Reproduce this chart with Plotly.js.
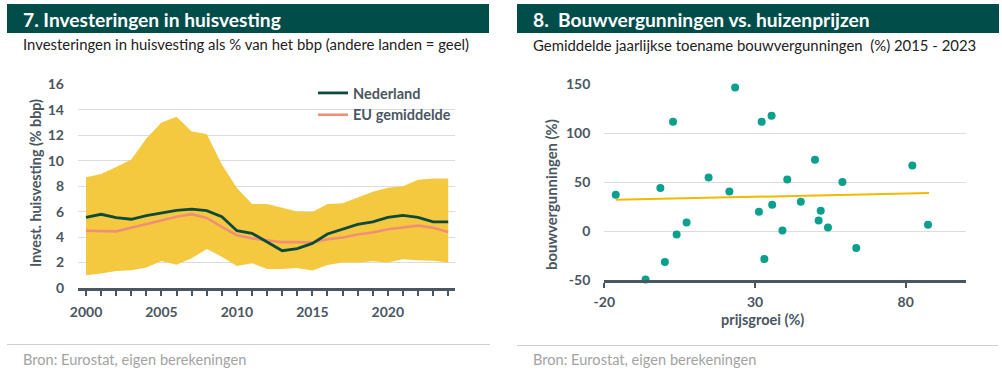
<!DOCTYPE html>
<html>
<head>
<meta charset="utf-8">
<script src="https://cdn.plot.ly/plotly-3.0.1.min.js"></script>
<style>
  html, body { margin: 0; padding: 0; background: #ffffff; }
  #chart { width: 1002px; height: 379px; }
</style>
</head>
<body>
<div id="chart"></div>
<script>
// ---- Data: chart 7 ----
const years = [2000,2001,2002,2003,2004,2005,2006,2007,2008,2009,2010,2011,2012,2013,2014,2015,2016,2017,2018,2019,2020,2021,2022,2023,2024];
const nederland = [5.55,5.79,5.52,5.40,5.69,5.90,6.10,6.20,6.07,5.60,4.50,4.30,3.64,2.93,3.09,3.50,4.24,4.60,5.00,5.20,5.55,5.70,5.55,5.20,5.20];
const euGemiddelde = [4.50,4.45,4.45,4.73,5.00,5.30,5.60,5.80,5.50,4.80,4.15,3.90,3.75,3.60,3.60,3.57,3.83,3.97,4.20,4.36,4.62,4.78,4.90,4.73,4.40];
const andereHoog = [8.70,8.96,9.50,10.10,11.75,13.00,13.45,12.30,12.10,9.70,7.85,6.60,6.60,6.30,6.00,5.97,6.60,6.65,7.10,7.56,7.88,8.00,8.50,8.60,8.60];
const andereLaag = [1.00,1.13,1.34,1.40,1.62,2.12,1.83,2.33,3.07,2.46,1.73,1.95,1.50,1.50,1.58,1.37,1.80,2.00,2.00,2.10,2.00,2.26,2.18,2.15,2.00];
const yTicks7 = [0,2,4,6,8,10,12,14,16];

// ---- Data: chart 8 ----
const prijsgroei = [-16.2,-6.3,-1.4,0.1,2.8,4.0,7.3,14.6,21.5,23.4,32.2,35.5,31.3,33.1,35.7,39.1,40.7,45.2,49.9,51.1,51.8,54.2,59.0,63.6,82.2,87.4];
const bouwvergunningen = [37.1,-49.5,43.9,-31.7,111.7,-3.4,8.8,54.8,40.5,146.8,111.7,117.8,19.7,-28.6,26.9,0.6,52.7,29.9,72.9,10.9,20.7,3.7,50.1,-17.4,67.1,6.4];
const trendX = [-16.2, 87.7];
const trendY = [32.0, 38.8];
const xTicks8 = [-20, 30, 80];
const yTicks8 = [-50, 0, 50, 100, 150];

// ---- Text ----
const title7 = "7. Investeringen in huisvesting";
const sub7 = "Investeringen in huisvesting als % van het bbp (andere landen = geel)";
const title8 = "8.\u00a0\u00a0Bouwvergunningen vs. huizenprijzen";
const sub8 = "Gemiddelde jaarlijkse toename bouwvergunningen\u00a0\u00a0(%) 2015 - 2023";
const bron = "Bron: Eurostat, eigen berekeningen";

// ---- Styling helpers ----
const W = 1002, H = 379;
const px = x => x / W;
const py = y => 1 - y / H;
const FONT = "Lato, 'Open Sans', sans-serif";
const AX = "#4a5661";
const TEAL = "#014d4a";

const traces = [
  { x: years, y: andereLaag, type: 'scatter', mode: 'lines', line: {width: 0, color: '#f5c93f'},
    showlegend: false, hoverinfo: 'skip', xaxis: 'x', yaxis: 'y' },
  { x: years, y: andereHoog, type: 'scatter', mode: 'lines', line: {width: 0, color: '#f5c93f'},
    fill: 'tonexty', fillcolor: '#f5c93f', showlegend: false, xaxis: 'x', yaxis: 'y' },
  { x: years, y: euGemiddelde, type: 'scatter', mode: 'lines', name: 'EU gemiddelde',
    line: {color: '#ef8f78', width: 2.6}, legendgroup: 'b', legendrank: 2, xaxis: 'x', yaxis: 'y' },
  { x: years, y: nederland, type: 'scatter', mode: 'lines', name: 'Nederland',
    line: {color: '#0d4a3b', width: 2.8}, legendgroup: 'a', legendrank: 1, xaxis: 'x', yaxis: 'y' },
  { x: trendX, y: trendY, type: 'scatter', mode: 'lines', line: {color: '#f5b800', width: 2},
    showlegend: false, xaxis: 'x2', yaxis: 'y2' },
  { x: prijsgroei, y: bouwvergunningen, type: 'scatter', mode: 'markers',
    marker: {color: '#0aa08d', size: 8}, showlegend: false, cliponaxis: false, xaxis: 'x2', yaxis: 'y2' }
];

const tickFont = {family: FONT, size: 14, color: AX, weight: 'bold'};

const layout = {
  width: W, height: H,
  margin: {l: 0, r: 0, t: 0, b: 0},
  paper_bgcolor: '#ffffff', plot_bgcolor: 'rgba(0,0,0,0)',
  font: {family: FONT, color: AX},
  showlegend: true,
  legend: {
    x: px(313), y: py(77), xanchor: 'left', yanchor: 'top',
    bgcolor: 'rgba(0,0,0,0)', borderwidth: 0, tracegroupgap: 6,
    font: {family: FONT, size: 14.5, color: AX, weight: 'bold'},
    traceorder: 'normal'
  },
  xaxis: {
    domain: [px(78), px(455)], range: [1999.47, 2024.45],
    tickvals: years, ticktext: years.map(y => (y % 5 === 0 ? String(y) : '')),
    ticks: 'outside', ticklen: 5, tickwidth: 2, tickcolor: AX,
    showline: true, linecolor: AX, linewidth: 2.5,
    showgrid: false, zeroline: false, tickfont: tickFont, ticklabelstandoff: 5,
    anchor: 'y'
  },
  yaxis: {
    domain: [py(288), py(84.3)], range: [0, 16],
    tickvals: yTicks7, showgrid: true, gridcolor: '#dcdcdc', gridwidth: 1,
    zeroline: false, showline: false, ticks: '', tickfont: tickFont, ticklabelstandoff: 13,
    anchor: 'x'
  },
  xaxis2: {
    domain: [px(604.3), px(966)], range: [-20, 100],
    tickvals: xTicks8, ticktext: xTicks8.map(v => String(v)),
    ticks: 'outside', ticklen: 5, tickwidth: 2, tickcolor: AX,
    showline: true, linecolor: AX, linewidth: 2.5,
    showgrid: false, zeroline: false, tickfont: tickFont, ticklabelstandoff: 3,
    anchor: 'y2'
  },
  yaxis2: {
    domain: [py(280), py(84.3)], range: [-50, 150],
    tickvals: yTicks8, ticktext: yTicks8.map(v => String(v)),
    showgrid: true, gridcolor: '#dcdcdc', gridwidth: 1,
    zeroline: false, showline: false, ticks: '', tickfont: tickFont, ticklabelstandoff: 13,
    anchor: 'x2'
  },
  shapes: [
    {type: 'rect', xref: 'paper', yref: 'paper', x0: px(7), x1: px(489), y0: py(33), y1: py(4),
     fillcolor: TEAL, line: {width: 0}, layer: 'below'},
    {type: 'rect', xref: 'paper', yref: 'paper', x0: px(517), x1: px(999), y0: py(33), y1: py(4),
     fillcolor: TEAL, line: {width: 0}, layer: 'below'},
    {type: 'line', xref: 'paper', yref: 'paper', x0: px(7), x1: px(490), y0: py(344.5), y1: py(344.5),
     line: {color: '#cfcfcf', width: 1}},
    {type: 'line', xref: 'paper', yref: 'paper', x0: px(517), x1: px(998), y0: py(345.5), y1: py(345.5),
     line: {color: '#cfcfcf', width: 1}}
  ],
  annotations: [
    {text: title7, xref: 'paper', yref: 'paper', x: px(21), y: py(19), xanchor: 'left', yanchor: 'middle',
     showarrow: false, font: {family: FONT, size: 19.2, color: '#ffffff', weight: 'bold'}},
    {text: title8, xref: 'paper', yref: 'paper', x: px(531), y: py(19), xanchor: 'left', yanchor: 'middle',
     showarrow: false, font: {family: FONT, size: 19.2, color: '#ffffff', weight: 'bold'}},
    {text: sub7, xref: 'paper', yref: 'paper', x: px(21), y: py(44), xanchor: 'left', yanchor: 'middle',
     showarrow: false, font: {family: FONT, size: 14.9, color: '#222222'}},
    {text: sub8, xref: 'paper', yref: 'paper', x: px(531), y: py(45), xanchor: 'left', yanchor: 'middle',
     showarrow: false, font: {family: FONT, size: 14.9, color: '#222222'}},
    {text: 'Invest. huisvesting (% bbp)', xref: 'paper', yref: 'paper', x: px(35), y: py(183),
     xanchor: 'center', yanchor: 'middle', textangle: -90, showarrow: false,
     font: {family: FONT, size: 14.3, color: AX, weight: 'bold'}},
    {text: 'bouwvergunningen (%)', xref: 'paper', yref: 'paper', x: px(551), y: py(195),
     xanchor: 'center', yanchor: 'middle', textangle: -90, showarrow: false,
     font: {family: FONT, size: 14.8, color: AX, weight: 'bold'}},
    {text: 'prijsgroei (%)', xref: 'paper', yref: 'paper', x: px(762), y: py(319.5),
     xanchor: 'center', yanchor: 'middle', showarrow: false,
     font: {family: FONT, size: 14.5, color: AX, weight: 'bold'}},
    {text: bron, xref: 'paper', yref: 'paper', x: px(21), y: py(359), xanchor: 'left', yanchor: 'middle',
     showarrow: false, font: {family: FONT, size: 14.6, color: '#a3a3a3'}},
    {text: bron, xref: 'paper', yref: 'paper', x: px(531), y: py(359), xanchor: 'left', yanchor: 'middle',
     showarrow: false, font: {family: FONT, size: 14.6, color: '#a3a3a3'}}
  ]
};

Plotly.newPlot('chart', traces, layout, {displayModeBar: false, staticPlot: true});
</script>
</body>
</html>
